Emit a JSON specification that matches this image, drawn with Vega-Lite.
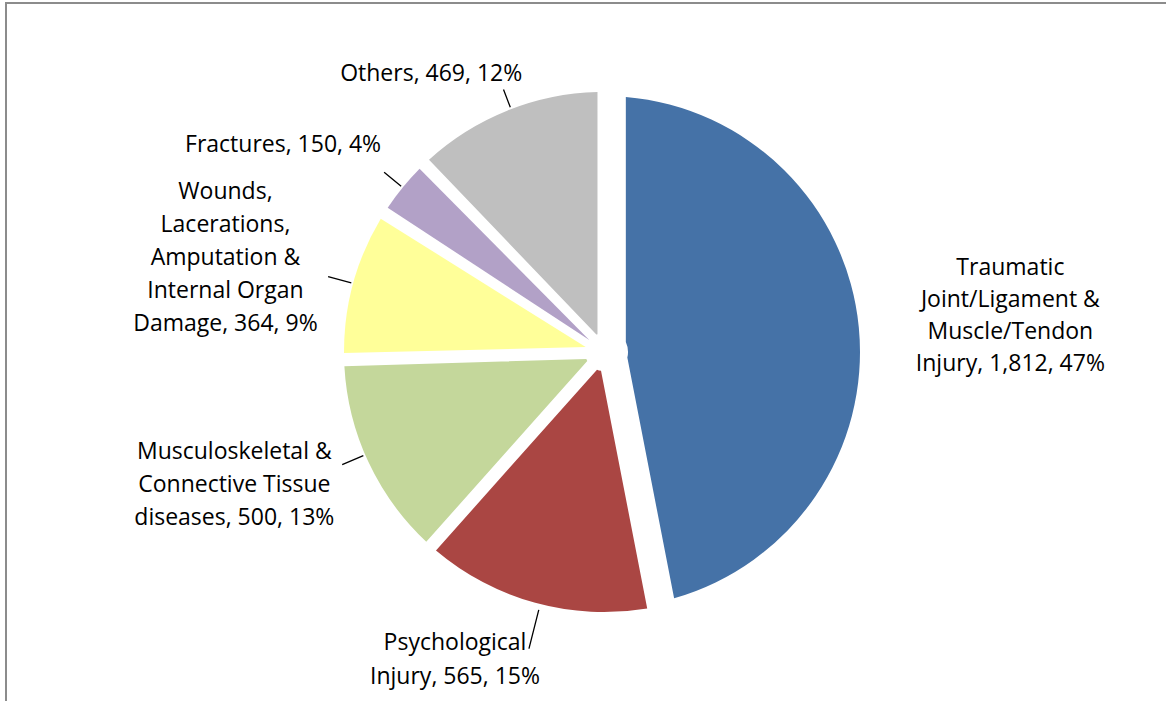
{
  "$schema": "https://vega.github.io/schema/vega-lite/v6.json",
  "autosize": {"type": "none"},
  "width": 1196,
  "height": 698,
  "padding": {"left": 6, "top": 3, "right": -36, "bottom": 21},
  "background": "white",
  "view": {"stroke": "#8c8c8c", "strokeWidth": 2, "strokeDash": [1196, 1894, 698]},
  "data": {
    "values": [
      {"n": 1, "cause": "Traumatic Joint/Ligament & Muscle/Tendon Injury", "count": 1812, "label": "Traumatic\nJoint/Ligament &\nMuscle/Tendon\nInjury, 1,812, 47%"},
      {"n": 2, "cause": "Psychological Injury", "count": 565, "label": "Psychological\nInjury, 565, 15%"},
      {"n": 3, "cause": "Musculoskeletal & Connective Tissue diseases", "count": 500, "label": "Musculoskeletal &\nConnective Tissue\ndiseases, 500, 13%"},
      {"n": 4, "cause": "Wounds, Lacerations, Amputation & Internal Organ Damage", "count": 364, "label": "Wounds,\nLacerations,\nAmputation &\nInternal Organ\nDamage, 364, 9%"},
      {"n": 5, "cause": "Fractures", "count": 150, "label": "Fractures, 150, 4%"},
      {"n": 6, "cause": "Others", "count": 469, "label": "Others, 469, 12%"}
    ]
  },
  "encoding": {
    "theta": {"field": "count", "type": "quantitative", "stack": true},
    "order": {"field": "n", "type": "quantitative"}
  },
  "layer": [
    {
      "mark": {"type": "arc", "outerRadius": 260, "innerRadius": 19, "padAngle": 0.05},
      "encoding": {
        "color": {"field": "cause", "type": "nominal", "legend": null,
          "scale": {"domain": ["Traumatic Joint/Ligament & Muscle/Tendon Injury", "Psychological Injury", "Musculoskeletal & Connective Tissue diseases", "Wounds, Lacerations, Amputation & Internal Organ Damage", "Fractures", "Others"],
                    "range": ["#4572A7", "#AA4643", "#C4D79B", "#FFFF99", "#B2A1C7", "#BFBFBF"]}},
        "opacity": {"condition": {"test": "datum.n === 1", "value": 0}, "value": 1}
      }
    },
    {
      "mark": {"type": "arc", "outerRadius": 256, "innerRadius": 24, "padAngle": 0.17},
      "encoding": {
        "color": {"field": "cause", "type": "nominal", "legend": null},
        "opacity": {"condition": {"test": "datum.n === 1", "value": 1}, "value": 0}
      }
    },
    {
      "mark": {"type": "arc", "filled": false, "color": "black", "strokeWidth": 1.3, "innerRadius": 266, "outerRadius": 306, "padAngle": 3, "thetaOffset": -0.02},
      "encoding": {"opacity": {"condition": {"test": "datum.n === 2", "value": 1}, "value": 0}}
    },
    {
      "mark": {"type": "arc", "filled": false, "color": "black", "strokeWidth": 1.3, "innerRadius": 262, "outerRadius": 285, "padAngle": 3, "thetaOffset": 0.03},
      "encoding": {"opacity": {"condition": {"test": "datum.n === 3", "value": 1}, "value": 0}}
    },
    {
      "mark": {"type": "arc", "filled": false, "color": "black", "strokeWidth": 1.3, "innerRadius": 262, "outerRadius": 286, "padAngle": 3},
      "encoding": {"opacity": {"condition": {"test": "datum.n === 4", "value": 1}, "value": 0}}
    },
    {
      "mark": {"type": "arc", "filled": false, "color": "black", "strokeWidth": 1.3, "innerRadius": 262, "outerRadius": 284, "padAngle": 3},
      "encoding": {"opacity": {"condition": {"test": "datum.n === 5", "value": 1}, "value": 0}}
    },
    {
      "mark": {"type": "arc", "filled": false, "color": "black", "strokeWidth": 1.3, "innerRadius": 262, "outerRadius": 281, "padAngle": 3, "thetaOffset": 0.016},
      "encoding": {"opacity": {"condition": {"test": "datum.n === 6", "value": 1}, "value": 0}}
    },
    {
      "mark": {"type": "text", "radius": 408, "thetaOffset": 0.007, "dy": -48, "align": "center", "baseline": "middle", "font": "Open Sans", "fontSize": 23, "lineHeight": 32, "lineBreak": "\n", "fill": "black"},
      "encoding": {"text": {"condition": {"test": "datum.n === 1", "field": "label"}, "value": ""}}
    },
    {
      "mark": {"type": "text", "radius": 342, "thetaOffset": 0.183, "dy": -17, "align": "center", "baseline": "middle", "font": "Open Sans", "fontSize": 23, "lineHeight": 34, "lineBreak": "\n", "fill": "black"},
      "encoding": {"text": {"condition": {"test": "datum.n === 2", "field": "label"}, "value": ""}}
    },
    {
      "mark": {"type": "text", "radius": 393, "thetaOffset": 0.09, "dy": -33, "align": "center", "baseline": "middle", "font": "Open Sans", "fontSize": 23, "lineHeight": 33, "lineBreak": "\n", "fill": "black"},
      "encoding": {"text": {"condition": {"test": "datum.n === 3", "field": "label"}, "value": ""}}
    },
    {
      "mark": {"type": "text", "radius": 390, "thetaOffset": -0.024, "dy": -66, "align": "center", "baseline": "middle", "font": "Open Sans", "fontSize": 23, "lineHeight": 33, "lineBreak": "\n", "fill": "black"},
      "encoding": {"text": {"condition": {"test": "datum.n === 4", "field": "label"}, "value": ""}}
    },
    {
      "mark": {"type": "text", "radius": 382, "thetaOffset": -0.112, "align": "center", "baseline": "middle", "font": "Open Sans", "fontSize": 23, "lineBreak": "\n", "fill": "black"},
      "encoding": {"text": {"condition": {"test": "datum.n === 5", "field": "label"}, "value": ""}}
    },
    {
      "mark": {"type": "text", "radius": 327, "thetaOffset": -0.175, "align": "center", "baseline": "middle", "font": "Open Sans", "fontSize": 23, "lineBreak": "\n", "fill": "black"},
      "encoding": {"text": {"condition": {"test": "datum.n === 6", "field": "label"}, "value": ""}}
    }
  ]
}
